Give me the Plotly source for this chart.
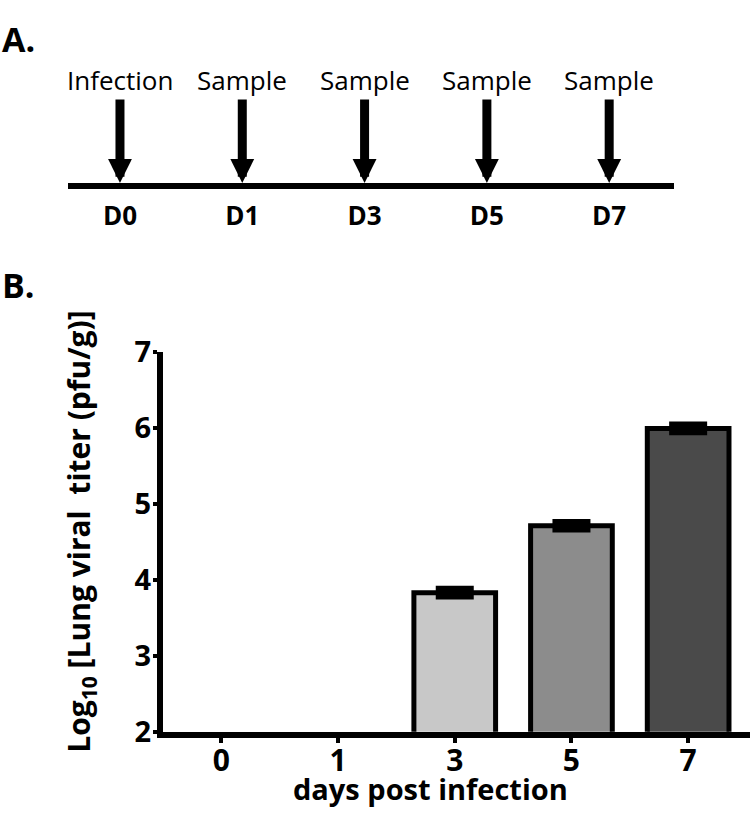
import plotly.graph_objects as go

# ---------------- data ----------------
timeline_days = ["D0", "D1", "D3", "D5", "D7"]
timeline_events = ["Infection", "Sample", "Sample", "Sample", "Sample"]

days = ["0", "1", "3", "5", "7"]
titer = [None, None, 3.83, 4.71, 5.99]
titer_err = [0, 0, 0.05, 0.05, 0.05]
bar_colors = ["#c8c8c8", "#c8c8c8", "#c8c8c8", "#8c8c8c", "#4a4a4a"]
y_ticks = [2, 3, 4, 5, 6, 7]

W, H = 750, 826
def px(p):
    return p / W
def py(p):
    return 1 - p / H

FONT = "Open Sans"

fig = go.Figure()

# Panel B bars
fig.add_trace(go.Bar(
    x=days, y=titer,
    marker=dict(color=bar_colors, line=dict(color="black", width=5)),
    width=0.70,
    error_y=dict(type="data", array=titer_err, thickness=6, width=19, color="black"),
    xaxis="x", yaxis="y", showlegend=False, hoverinfo="skip",
))

# Panel A timeline (invisible trace to set categories)
fig.add_trace(go.Scatter(
    x=timeline_days, y=[0] * len(timeline_days), mode="markers",
    marker=dict(size=1, color="rgba(0,0,0,0)"),
    xaxis="x2", yaxis="y2", showlegend=False, hoverinfo="skip",
))

annotations = []
for d, ev in zip(timeline_days, timeline_events):
    annotations.append(dict(
        x=d, y=0, xref="x2", yref="y2", text=ev,
        showarrow=True, ax=0, ay=-103, arrowhead=2, arrowwidth=9,
        arrowsize=0.53, arrowcolor="black", standoff=0,
        font=dict(family=FONT, size=26, color="black"),
    ))

annotations += [
    dict(x=px(0), y=py(-7), xref="paper", yref="paper", text="A.",
         showarrow=False, xanchor="left", yanchor="top",
         font=dict(family=FONT, size=34, color="black", weight="bold")),
    dict(x=px(0), y=py(251), xref="paper", yref="paper", text="B.",
         showarrow=False, xanchor="left", yanchor="top",
         font=dict(family=FONT, size=34, color="black", weight="bold")),
    dict(x=px(80), y=py(536), xref="paper", yref="paper",
         text="Log<sub>10</sub> [Lung viral\u00a0 titer (pfu/g)]",
         showarrow=False, textangle=-90, xanchor="center", yanchor="middle",
         font=dict(family=FONT, size=30, color="black", weight="bold")),
    dict(x=px(430), y=py(806), xref="paper", yref="paper",
         text="days post infection",
         showarrow=False, xanchor="center", yanchor="middle",
         font=dict(family=FONT, size=29, color="black", weight="bold")),
]

fig.update_layout(
    width=W, height=H,
    margin=dict(l=0, r=0, t=0, b=0),
    paper_bgcolor="white", plot_bgcolor="white",
    xaxis=dict(
        domain=[px(163), 1.0], anchor="y",
        type="category", categoryorder="array", categoryarray=days,
        range=[-0.5, 4.53],
        showline=True, linewidth=6, linecolor="black",
        ticks="outside", ticklen=5, tickwidth=4, tickcolor="black",
        tickfont=dict(family=FONT, size=30, color="black", weight="bold"),
        ticklabelstandoff=-8,
        showgrid=False, zeroline=False,
    ),
    yaxis=dict(
        domain=[py(746), py(347)], anchor="x",
        range=[2, 7], tickvals=y_ticks,
        showline=True, linewidth=6, linecolor="black",
        ticks="outside", ticklen=4, tickwidth=4, tickcolor="black",
        tickfont=dict(family=FONT, size=29, color="black", weight="bold"),
        ticklabelstandoff=-4,
        showgrid=False, zeroline=False,
    ),
    xaxis2=dict(
        domain=[px(68), px(674)], anchor="y2",
        type="category", categoryorder="array", categoryarray=timeline_days,
        range=[-0.425, 4.53],
        showline=True, linewidth=6, linecolor="black",
        ticks="", tickfont=dict(family=FONT, size=26, color="black", weight="bold"),
        ticklabelstandoff=5,
        showgrid=False, zeroline=False,
    ),
    yaxis2=dict(
        domain=[py(170), py(40)], anchor="x2", range=[0, 1],
        visible=False, showgrid=False, zeroline=False,
    ),
    annotations=annotations,
)

fig.write_html("out.html", config={"displayModeBar": False},
               post_script="document.body.style.margin='0';")
